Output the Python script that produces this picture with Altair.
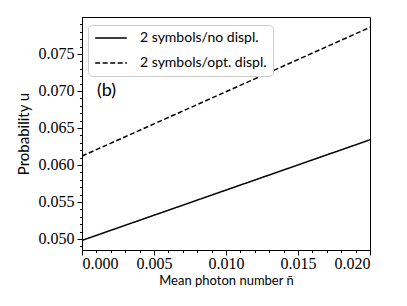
import altair as alt
import pandas as pd

n_bar = [0.0, 0.02]
no_displ = [0.0498, 0.0634]
opt_displ = [0.0612, 0.0786]
series_names = ["2 symbols/no displ.", "2 symbols/opt. displ."]

x_major = [0.0, 0.005, 0.010, 0.015, 0.020]
y_major = [0.050, 0.055, 0.060, 0.065, 0.070, 0.075]
x_minor = [i / 1000 for i in range(0, 21)]
y_minor = [i / 1000 for i in range(49, 80)]

rows = []
for name, vals in zip(series_names, [no_displ, opt_displ]):
    for xv, yv in zip(n_bar, vals):
        rows.append({"n": xv, "u": yv, "series": name})
df = pd.DataFrame(rows)

xdom = [0.0, 0.02]
ydom = [0.0485, 0.0800]
xscale = alt.Scale(domain=xdom, nice=False, zero=False)
yscale = alt.Scale(domain=ydom, nice=False, zero=False)

serif = "Liberation Serif"
sans = "Lato"

lines = alt.Chart(df).mark_line(color="black", strokeWidth=1.5, clip=True).encode(
    x=alt.X("n:Q", scale=xscale,
            axis=alt.Axis(values=x_major, format=".3f", title="Mean photon number n\u0304",
                          orient="bottom", grid=False, tickSize=5, tickColor="black",
                          domainColor="black", labelFont=serif, labelFontSize=16,
                          labelColor="black", titleFont=sans, titleFontSize=13,
                          titleFontWeight="normal", titleColor="black", titlePadding=3,
                          labelPadding=0)),
    y=alt.Y("u:Q", scale=yscale,
            axis=alt.Axis(values=y_major, format=".3f", title="Probability u",
                          orient="left", grid=False, tickSize=5, tickColor="black",
                          domainColor="black", labelFont=serif, labelFontSize=16,
                          labelColor="black", titleFont=sans, titleFontSize=15,
                          titleFontWeight="normal", titleColor="black", titlePadding=7,
                          labelPadding=3)),
    strokeDash=alt.StrokeDash("series:N",
        scale=alt.Scale(domain=series_names, range=[[1, 0], [5, 2.5]]),
        legend=alt.Legend(title=None, orient="none", legendX=6, legendY=8,
                          symbolType="stroke", symbolStrokeColor="black",
                          symbolStrokeWidth=1.5, symbolSize=1000, clipHeight=14,
                          labelFont=sans, labelFontSize=14, labelColor="black",
                          padding=6, strokeColor="#cccccc", fillColor="white",
                          cornerRadius=4, rowPadding=11, labelOffset=12)),
)

minor = alt.Chart(pd.DataFrame({"n": x_minor[:len(y_minor)] + [0.0] * max(0, len(y_minor) - len(x_minor)),
                                "u": y_minor})).mark_point(opacity=0).encode(
    x=alt.X("n:Q", scale=xscale,
            axis=alt.Axis(values=x_minor, labels=False, title=None, orient="bottom",
                          grid=False, tickSize=2.5, tickColor="black", domain=False)),
    y=alt.Y("u:Q", scale=yscale,
            axis=alt.Axis(values=y_minor, labels=False, title=None, orient="left",
                          grid=False, tickSize=2.5, tickColor="black", domain=False)),
)

label = alt.Chart(pd.DataFrame({"n": [0.00104], "u": [0.0700], "t": ["(b)"]})).mark_text(
    align="left", baseline="middle", font=sans, fontSize=18, color="black"
).encode(x=alt.X("n:Q", scale=xscale, axis=None),
         y=alt.Y("u:Q", scale=yscale, axis=None), text="t:N")

chart = alt.layer(lines, minor, label).resolve_axis(x="independent", y="independent").properties(
    width=288, height=233,
    autosize=alt.AutoSizeParams(type="none"),
    padding={"left": 74, "top": 9, "right": 29, "bottom": 48},
).configure_view(stroke="black", strokeWidth=1)

chart.save("out.html", embed_options={"renderer": "svg", "actions": False})
